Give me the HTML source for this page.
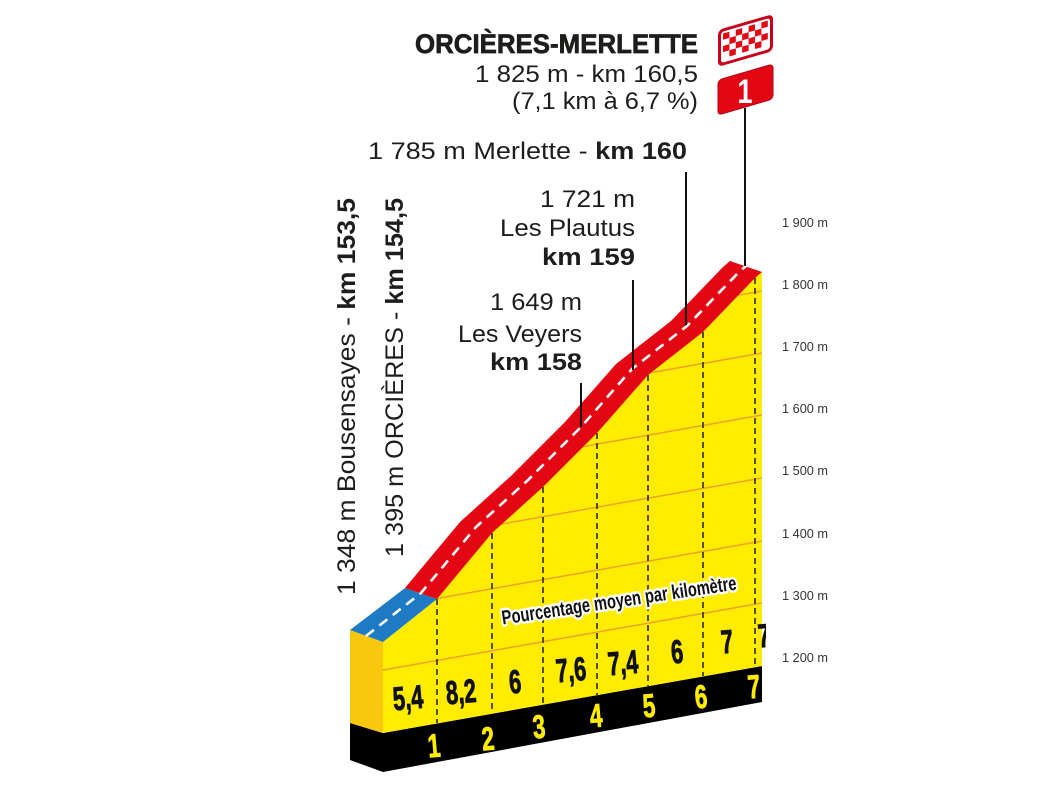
<!DOCTYPE html>
<html>
<head>
<meta charset="utf-8">
<style>
html,body{margin:0;padding:0;background:#fff;}
svg{display:block;}
text{font-family:"Liberation Sans",sans-serif;}
</style>
</head>
<body>
<svg width="1064" height="799" viewBox="0 0 1064 799" xmlns="http://www.w3.org/2000/svg">
<defs>
  <clipPath id="face">
    <polygon points="383,642 437,599 492,533 543,487 597,433 648,375 703,332 755,278 762,272 762,666 383,733"/>
  </clipPath>
  <clipPath id="cut"><rect x="0" y="0" width="766" height="799"/></clipPath>
</defs>
<rect width="1064" height="799" fill="#fff"/>

<!-- black base -->
<polygon points="383,733 762,666 762,702 383,772" fill="#000"/>
<polygon points="350,723 383,733 383,772 350,760" fill="#000"/>
<!-- left side face -->
<polygon points="350,630 383,642 383,733 350,723" fill="#F9C80E"/>
<!-- front face -->
<polygon points="383,642 437,599 492,533 543,487 597,433 648,375 703,332 755,278 762,272 762,666 383,733" fill="#FFEC00"/>

<!-- grid lines -->
<g clip-path="url(#face)" stroke="#EEA22A" stroke-width="1.5">
  <line x1="383" y1="670" x2="762" y2="603"/>
  <line x1="383" y1="608" x2="762" y2="541"/>
  <line x1="383" y1="545" x2="762" y2="478"/>
  <line x1="383" y1="482" x2="762" y2="415"/>
  <line x1="383" y1="420" x2="762" y2="353"/>
  <line x1="383" y1="358" x2="762" y2="291"/>
</g>

<!-- km dashed verticals -->
<g stroke="#2a2a1a" stroke-width="1.6" stroke-dasharray="6,4">
  <line x1="437" y1="599" x2="437" y2="723"/>
  <line x1="492" y1="533" x2="492" y2="713"/>
  <line x1="543" y1="487" x2="543" y2="704"/>
  <line x1="597" y1="433" x2="597" y2="695"/>
  <line x1="648" y1="375" x2="648" y2="686"/>
  <line x1="703" y1="332" x2="703" y2="676"/>
  <line x1="755" y1="278" x2="755" y2="667"/>
</g>

<!-- top road bands -->
<polygon points="383,642 437,599 405,588 350,630" fill="#1F7AC4"/>
<polygon points="437,599 492,533 543,487 597,433 648,375 703,332 755,278 762,272 730,261 723,267 671,321 616,364 565,422 511,476 460,522 405,588" fill="#E30613"/>
<polyline points="366,636 421,593 476,527 527,481 581,427 632,369 687,326 739,272 746,266" fill="none" stroke="#fff" stroke-width="2.6" stroke-dasharray="10,7"/>

<!-- percentages -->
<g font-weight="bold" font-size="33" fill="#111" stroke="#111" stroke-width="0.9" text-anchor="middle">
  <text transform="translate(409,709) rotate(-5) scale(0.66,1)">5,4</text>
  <text transform="translate(462,703) rotate(-5) scale(0.66,1)">8,2</text>
  <text transform="translate(516,693) rotate(-5) scale(0.66,1)">6</text>
  <text transform="translate(572,681) rotate(-5) scale(0.66,1)">7,6</text>
  <text transform="translate(624,674) rotate(-5) scale(0.66,1)">7,4</text>
  <text transform="translate(678,663) rotate(-5) scale(0.66,1)">6</text>
  <text transform="translate(728,653) rotate(-5) scale(0.66,1)">7</text>
  <g clip-path="url(#cut)"><text transform="translate(765,647) rotate(-5) scale(0.66,1)">7</text></g>
</g>

<!-- km numbers -->
<g font-weight="bold" font-size="33" fill="#FFEC00" stroke="#FFEC00" stroke-width="0.8" text-anchor="middle">
  <text transform="translate(435,757) rotate(-5) scale(0.68,1)">1</text>
  <text transform="translate(489,750) rotate(-5) scale(0.68,1)">2</text>
  <text transform="translate(540,738) rotate(-5) scale(0.68,1)">3</text>
  <text transform="translate(597,727) rotate(-5) scale(0.68,1)">4</text>
  <text transform="translate(650,717) rotate(-5) scale(0.68,1)">5</text>
  <text transform="translate(702,708) rotate(-5) scale(0.68,1)">6</text>
  <text transform="translate(755,698) rotate(-5) scale(0.68,1)">7</text>
</g>

<!-- Pourcentage label -->
<text transform="translate(620,607) rotate(-8.5)" text-anchor="middle" font-weight="bold" font-size="20" fill="#111" stroke="#fff" stroke-width="5" stroke-linejoin="round" paint-order="stroke" textLength="237" lengthAdjust="spacingAndGlyphs">Pourcentage moyen par kilomètre</text>

<!-- poles -->
<g stroke="#111" stroke-width="2">
  <line x1="745" y1="108" x2="745" y2="266"/>
  <line x1="686" y1="172" x2="686" y2="325"/>
  <line x1="633" y1="280" x2="633" y2="370"/>
  <line x1="581" y1="383" x2="581" y2="427"/>
</g>

<!-- checkered flag -->
<g transform="translate(718,30) skewY(-16.2)">
  <rect x="0" y="0" width="55" height="37" rx="5" fill="#C8001A"/>
  <rect x="3" y="3" width="49" height="31" rx="3" fill="#fff"/>
  <g fill="#E30613">
    <rect x="5" y="5" width="6.4" height="6.2"/><rect x="17.8" y="5" width="6.4" height="6.2"/><rect x="30.6" y="5" width="6.4" height="6.2"/><rect x="43.4" y="5" width="6.4" height="6.2"/>
    <rect x="11.4" y="11.2" width="6.4" height="6.2"/><rect x="24.2" y="11.2" width="6.4" height="6.2"/><rect x="37" y="11.2" width="6.4" height="6.2"/>
    <rect x="5" y="17.4" width="6.4" height="6.2"/><rect x="17.8" y="17.4" width="6.4" height="6.2"/><rect x="30.6" y="17.4" width="6.4" height="6.2"/><rect x="43.4" y="17.4" width="6.4" height="6.2"/>
    <rect x="11.4" y="23.6" width="6.4" height="6.2"/><rect x="24.2" y="23.6" width="6.4" height="6.2"/><rect x="37" y="23.6" width="6.4" height="6.2"/>
  </g>
</g>
<!-- red flag 1 -->
<g transform="translate(718,80) skewY(-16.2)">
  <rect x="0" y="0" width="55" height="35" rx="4" fill="#E30613" stroke="#B0001A" stroke-width="1"/>
</g>
<text x="0" y="0" text-anchor="middle" font-weight="bold" font-size="34" fill="#fff" transform="translate(745,103) scale(0.8,1)">1</text>

<!-- top labels -->
<g fill="#1d1d1b">
  <text x="698" y="53" text-anchor="end" font-weight="bold" font-size="27" stroke="#1d1d1b" stroke-width="0.7" textLength="283" lengthAdjust="spacingAndGlyphs">ORCIÈRES-MERLETTE</text>
  <text x="698" y="82" text-anchor="end" font-size="24" textLength="223" lengthAdjust="spacingAndGlyphs">1 825 m - km 160,5</text>
  <text x="698" y="109" text-anchor="end" font-size="24" textLength="186" lengthAdjust="spacingAndGlyphs">(7,1 km à 6,7 %)</text>

  <text x="368" y="159" font-size="24" textLength="319" lengthAdjust="spacingAndGlyphs">1 785 m Merlette - <tspan font-weight="bold">km 160</tspan></text>

  <text x="635" y="207" text-anchor="end" font-size="24" textLength="95" lengthAdjust="spacingAndGlyphs">1 721 m</text>
  <text x="635" y="236" text-anchor="end" font-size="24" textLength="135" lengthAdjust="spacingAndGlyphs">Les Plautus</text>
  <text x="635" y="265" text-anchor="end" font-size="24" font-weight="bold" textLength="93" lengthAdjust="spacingAndGlyphs">km 159</text>

  <text x="582" y="310" text-anchor="end" font-size="24" textLength="92" lengthAdjust="spacingAndGlyphs">1 649 m</text>
  <text x="582" y="342" text-anchor="end" font-size="24" textLength="124" lengthAdjust="spacingAndGlyphs">Les Veyers</text>
  <text x="582" y="370" text-anchor="end" font-size="24" font-weight="bold" textLength="92" lengthAdjust="spacingAndGlyphs">km 158</text>

  <text transform="translate(355,595) rotate(-90)" font-size="25" textLength="397" lengthAdjust="spacingAndGlyphs">1 348 m Bousensayes - <tspan font-weight="bold">km 153,5</tspan></text>
  <text transform="translate(403,557) rotate(-90)" font-size="25" textLength="359" lengthAdjust="spacingAndGlyphs">1 395 m ORCIÈRES - <tspan font-weight="bold">km 154,5</tspan></text>
</g>

<!-- axis labels -->
<g fill="#333" font-size="12.5">
  <text x="782" y="227" textLength="46" lengthAdjust="spacingAndGlyphs">1 900 m</text>
  <text x="782" y="289" textLength="46" lengthAdjust="spacingAndGlyphs">1 800 m</text>
  <text x="782" y="351" textLength="46" lengthAdjust="spacingAndGlyphs">1 700 m</text>
  <text x="782" y="413" textLength="46" lengthAdjust="spacingAndGlyphs">1 600 m</text>
  <text x="782" y="475" textLength="46" lengthAdjust="spacingAndGlyphs">1 500 m</text>
  <text x="782" y="538" textLength="46" lengthAdjust="spacingAndGlyphs">1 400 m</text>
  <text x="782" y="600" textLength="46" lengthAdjust="spacingAndGlyphs">1 300 m</text>
  <text x="782" y="662" textLength="46" lengthAdjust="spacingAndGlyphs">1 200 m</text>
</g>
</svg>
</body>
</html>
